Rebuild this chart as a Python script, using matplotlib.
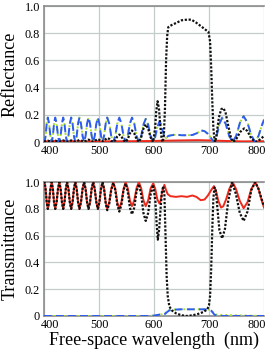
"""Reflectance / transmittance spectra, two stacked panels."""

import matplotlib.pyplot as plt
from matplotlib.transforms import ScaledTranslation

plt.switch_backend("Agg")
plt.rcParams["font.family"] = ["Liberation Serif", "DejaVu Serif"]

# ---- top panel: reflectance ----
wl_blue_r = [400, 401, 403, 405, 407, 409.3, 411.7, 414, 416.2, 418.3, 420.5,
             423, 425.5, 428, 430.3, 432.7, 435, 437.3, 439.7, 442, 444.5, 447,
             449.5, 452, 454.5, 457, 459.5, 462, 464.5, 467.3, 470.2, 473, 475.7,
             478.3, 481, 483.8, 486.7, 489.5, 492.3, 495.2, 498, 500.8, 503.7,
             506.5, 509.3, 512.2, 515, 518.7, 522.3, 526, 529.7, 533.3, 537,
             540.8, 544.7, 548.5, 552.3, 556.2, 560, 564.2, 568.3, 572.5, 576.7,
             580.8, 585, 589.5, 594, 598.5, 602.3, 606.2, 610, 613, 616, 619, 622,
             626, 632, 640, 650, 660, 670, 678, 686, 692, 698, 703, 706, 709, 714,
             719, 724, 730.3, 736.7, 743, 749.7, 756.3, 763, 770, 777, 784, 790,
             796, 800]
blue_r = [0.01, 0.0, 0.045, 0.135, 0.18, 0.135, 0.045, 0.0, 0.045, 0.135, 0.18,
          0.135, 0.045, 0.0, 0.045, 0.135, 0.18, 0.135, 0.045, 0.0, 0.045, 0.135,
          0.18, 0.135, 0.045, 0.0, 0.045, 0.135, 0.18, 0.135, 0.045, 0.0, 0.045,
          0.135, 0.18, 0.135, 0.045, 0.0, 0.045, 0.135, 0.18, 0.135, 0.045,
          0.0, 0.045, 0.135, 0.18, 0.135, 0.045, 0.0, 0.045, 0.135, 0.18,
          0.135, 0.045, 0.0, 0.045, 0.135, 0.18, 0.135, 0.045, 0.0, 0.0425,
          0.1275, 0.17, 0.1275, 0.0425, 0.0, 0.0375, 0.1125, 0.15, 0.13, 0.08,
          0.04, 0.03, 0.045, 0.05, 0.055, 0.05, 0.05, 0.052, 0.065, 0.085, 0.08,
          0.06, 0.035, 0.015, 0.0, 0.045, 0.135, 0.18, 0.135, 0.045, 0.0,
          0.0475, 0.1425, 0.19, 0.1425, 0.0475, 0.0, 0.045, 0.12, 0.165]

wl_black_r = [400, 407, 414, 420.5, 428, 435, 442, 449.5, 457, 464.5, 473, 481,
              489.5, 498, 506.5, 515, 518.7, 522.3, 526, 529.7, 533.3, 537, 540.8,
              544.7, 548.5, 552.3, 556.2, 560, 564.2, 568.3, 572.5, 576.7, 580.8,
              585, 589.5, 594, 598.5, 602, 604, 606.5, 609, 611.5, 614, 616, 618,
              620, 622, 624, 626, 632, 640, 650, 660, 668, 676, 686, 694, 699, 702,
              704, 706, 708, 710, 711.5, 714, 718, 722, 726, 730, 735, 740, 744,
              750, 757, 764, 770, 777, 785, 790, 796, 800]
black_r = [0.003, 0.01, 0.002, 0.01, 0.002, 0.012, 0.002, 0.012, 0.002, 0.015,
           0.002, 0.018, 0.002, 0.022, 0.002, 0.03, 0.023, 0.008, 0.0, 0.014,
           0.041, 0.055, 0.041, 0.014, 0.0, 0.021, 0.064, 0.085, 0.064, 0.021,
           0.0, 0.033, 0.098, 0.13, 0.098, 0.033, 0.0, 0.1, 0.22, 0.3, 0.25,
           0.12, 0.02, 0.0, 0.05, 0.25, 0.6, 0.78, 0.845, 0.86, 0.875, 0.895,
           0.9, 0.9, 0.88, 0.85, 0.825, 0.81, 0.74, 0.55, 0.3, 0.1, 0.02, 0.0,
           0.06, 0.18, 0.24, 0.25, 0.22, 0.12, 0.03, 0.0, 0.025, 0.075, 0.1,
           0.08, 0.025, 0.0, 0.01, 0.03, 0.045]

wl_red_r = [400, 430, 460, 500, 550, 600, 620, 650, 680, 700, 730, 760, 800]
red_r = [0.005, 0.008, 0.006, 0.005, 0.006, 0.008, 0.01, 0.012, 0.014, 0.012,
         0.008, 0.005, 0.006]

# ---- bottom panel: transmittance ----
wl_red_t = wl_blue_r[:71] + [612, 615, 619, 622, 625, 630, 640, 650, 660, 670,
                             677, 685, 692, 698, 704, 709, 713, 717, 722, 726,
                             731, 737, 743, 749, 756, 763, 770, 777, 784, 790,
                             796, 800]
red_t = [0.99, 1.0, 0.95, 0.85, 0.8, 0.85, 0.95, 1.0, 0.95, 0.85, 0.8,
         0.85, 0.95, 1.0, 0.95, 0.85, 0.8, 0.85, 0.95, 1.0, 0.95, 0.85,
         0.8, 0.85, 0.95, 1.0, 0.95, 0.85, 0.8, 0.85, 0.95, 1.0, 0.95,
         0.85, 0.8, 0.85, 0.95, 1.0, 0.95, 0.85, 0.8, 0.85, 0.95,
         1.0, 0.95, 0.85, 0.8, 0.85, 0.95, 1.0, 0.95, 0.85, 0.8,
         0.85, 0.95, 1.0, 0.955, 0.865, 0.82, 0.865, 0.955, 1.0, 0.955,
         0.865, 0.82, 0.865, 0.955, 0.99, 0.95, 0.87, 0.84,
         0.86, 0.93, 0.98, 0.94, 0.91, 0.895, 0.89, 0.895, 0.89, 0.9,
         0.89, 0.865, 0.87, 0.9, 0.94, 0.97, 0.93, 0.86, 0.81, 0.82,
         0.87, 0.95, 1.0, 0.95, 0.86, 0.805, 0.85, 0.95, 1.0, 0.95,
         0.86, 0.81]

wl_black_t = wl_blue_r[:68] + [602.5, 605, 607, 609.5, 612, 614.5, 617, 619,
                               621, 623, 625, 628, 633, 640, 650, 660, 670, 680,
                               690, 697, 700, 702, 704, 706, 708, 710, 712, 715,
                               719, 724, 729, 735, 742, 749, 756, 763, 770, 777,
                               784, 790, 796, 800]
black_t = [0.99, 1.0, 0.95, 0.85, 0.8, 0.85, 0.95, 1.0, 0.95, 0.85, 0.8,
           0.85, 0.95, 1.0, 0.95, 0.85, 0.8, 0.85, 0.95, 1.0, 0.95, 0.85,
           0.8, 0.85, 0.95, 1.0, 0.95, 0.85, 0.8, 0.85, 0.95, 1.0, 0.95,
           0.85, 0.8, 0.85, 0.95, 1.0, 0.95, 0.85, 0.8, 0.85, 0.95,
           1.0, 0.95, 0.84, 0.79, 0.84, 0.94, 0.995, 0.94, 0.83, 0.78,
           0.83, 0.94, 0.99, 0.93, 0.81, 0.76, 0.81, 0.93, 0.985, 0.91,
           0.77, 0.71, 0.77, 0.91, 0.98,
           0.86, 0.68, 0.57, 0.65, 0.8, 0.93, 0.97, 0.9, 0.6, 0.3, 0.15, 0.07,
           0.04, 0.02, 0.005, 0.0, 0.005, 0.015, 0.03, 0.05, 0.08, 0.15, 0.35,
           0.65, 0.88, 0.96, 0.95, 0.82, 0.64, 0.58, 0.65, 0.86, 1.0, 0.91,
           0.77, 0.71, 0.78, 0.94, 1.0, 0.95, 0.87, 0.82]

wl_blue_t = [400, 590, 600, 607, 612, 616, 620, 624, 628, 635, 650, 670, 690,
             700, 704, 707, 710, 714, 720, 800]
blue_t = [0.0, 0.0, 0.003, 0.008, 0.012, 0.008, 0.015, 0.03, 0.042, 0.047,
          0.05, 0.05, 0.05, 0.048, 0.04, 0.025, 0.01, 0.003, 0.0, 0.0]
green_t = [0.0, 0.0, 0.003, 0.008, 0.012, 0.01, 0.02, 0.035, 0.044, 0.047,
           0.05, 0.05, 0.05, 0.048, 0.042, 0.03, 0.015, 0.01, 0.008, 0.0]

x_ticks = [400, 500, 600, 700, 800]
y_ticks = [0, 0.2, 0.4, 0.6, 0.8, 1.0]
y_labels = ["0", "0.2", "0.4", "0.6", "0.8", "1.0"]

BLACK = "#111111"
RED = "#ee2a1c"
BLUE = "#2f5cf0"
GREEN = "#a6e02a"
GRID = "#c4cccc"
SPINE = "#8c8c8c"

fig = plt.figure(figsize=(2.73, 3.56), dpi=100)
ax_r = fig.add_axes([0.161, 0.601, 0.806, 0.382])
ax_t = fig.add_axes([0.161, 0.1124, 0.806, 0.376])

dots = (0, (1.0, 0.75))
ax_r.plot(wl_red_r, red_r, color=RED, lw=1.4, zorder=3)
ax_r.plot(wl_blue_r, blue_r, color=GREEN, lw=1.4, ls=(0, (1, 1.5)), zorder=3)
ax_r.plot(wl_blue_r, blue_r, color=BLUE, lw=1.4, ls=(0, (4, 2.2)), zorder=4)
ax_r.plot(wl_black_r, black_r, color=BLACK, lw=1.6, ls=dots, zorder=5)

ax_t.plot(wl_blue_t, green_t, color=GREEN, lw=1.4, ls=(0, (1, 1.5)), zorder=3)
ax_t.plot(wl_blue_t, blue_t, color=BLUE, lw=1.4, ls=(0, (4, 2.2)), zorder=4)
ax_t.plot(wl_red_t, red_t, color=RED, lw=1.4, zorder=4)
ax_t.plot(wl_black_t, black_t, color=BLACK, lw=1.6, ls=dots, zorder=5)

for ax, label in ((ax_r, "Reflectance"), (ax_t, "Transmittance")):
    ax.set_xlim(400, 800)
    ax.set_ylim(0, 1.0)
    ax.set_xticks(x_ticks)
    ax.set_yticks(y_ticks)
    ax.set_yticklabels(y_labels)
    ax.tick_params(length=0, labelsize=8.8, pad=2)
    ax.tick_params(axis="y", pad=3)
    ax.grid(True, color=GRID, lw=0.9)
    ax.set_axisbelow(True)
    for sp in ax.spines.values():
        sp.set_color(SPINE)
        sp.set_linewidth(1.2)
    ax.spines["right"].set_visible(False)
    ax.set_ylabel(label, fontsize=13, labelpad=4)
    # end labels sit inside the frame, as in the original
    xl = ax.get_xticklabels()
    xl[0].set_transform(xl[0].get_transform() + ScaledTranslation(4 / 72, 0, fig.dpi_scale_trans))
    xl[-1].set_transform(xl[-1].get_transform() + ScaledTranslation(-5.5 / 72, 0, fig.dpi_scale_trans))

ax_t.set_xlabel("Free-space wavelength  (nm)", fontsize=13, labelpad=1)

fig.savefig("out.png", dpi=100)
